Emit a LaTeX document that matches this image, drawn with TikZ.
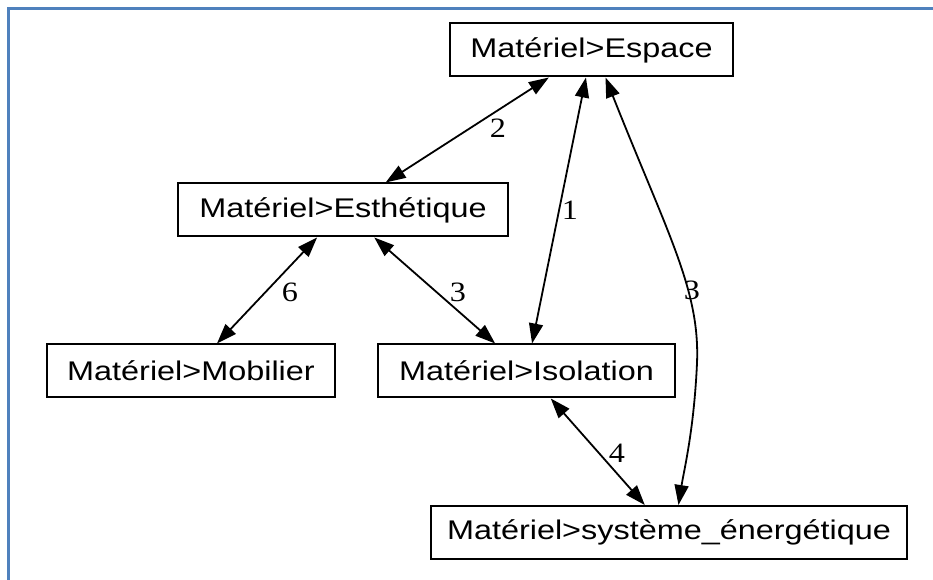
\documentclass[tikz,border=0pt]{standalone}
\usepackage{fontspec}
\setmainfont{Liberation Sans}
\newfontfamily\boxfont[FakeStretch=1.2]{Liberation Sans}
\newfontfamily\lblfont[FakeStretch=1.15]{Liberation Serif}
\usetikzlibrary{arrows.meta}
\definecolor{frameblue}{RGB}{79,129,189}

\begin{document}
\begin{tikzpicture}[x=1pt, y=1pt,
    box/.style={draw, line width=2pt, inner sep=0pt, minimum height=53pt,
        font=\boxfont\fontsize{27}{32}\selectfont},
    link/.style={line width=1.8pt,
        {Triangle[length=20pt,width=14pt]}-{Triangle[length=20pt,width=14pt]}},
    lbl/.style={font=\lblfont\fontsize{28}{32}\selectfont, inner sep=0pt}]
    \useasboundingbox (0,0) rectangle (933,580);
    \draw[frameblue, line width=3pt] (8.3,0) -- (8.3,571) -- (933,571);

    \node[box, minimum width=283pt] (esp)  at (591.5,530) {Matériel>Espace};
    \node[box, minimum width=330pt] (esth) at (343,370)   {Matériel>Esthétique};
    \node[box, minimum width=288pt] (mob)  at (191,209)   {Matériel>Mobilier};
    \node[box, minimum width=297pt] (iso)  at (526.5,209) {Matériel>Isolation};
    \node[box, minimum width=476pt] (sys)  at (669,47.5)  {Matériel>système\_énergétique};

    \draw[link] (esp) -- (esth);
    \draw[link] (esp) -- (iso);
    \draw[link] (esp.-63) .. controls (668,345) and (700,290) .. (697,217)
        .. controls (694,150) and (684,110) .. (sys.71);
    \draw[link] (esth) -- (mob);
    \draw[link] (esth) -- (iso);
    \draw[link] (iso) -- (sys);

    \node[lbl] (l2)  at (498,452) {2};
    \node[lbl] (l1)  at (570,370) {1};
    \node[lbl] (l3a) at (692,290) {3};
    \node[lbl] (l6)  at (290,288) {6};
    \node[lbl] (l3b) at (458,288) {3};
    \node[lbl] (l4)  at (617,127) {4};
\end{tikzpicture}
\end{document}
